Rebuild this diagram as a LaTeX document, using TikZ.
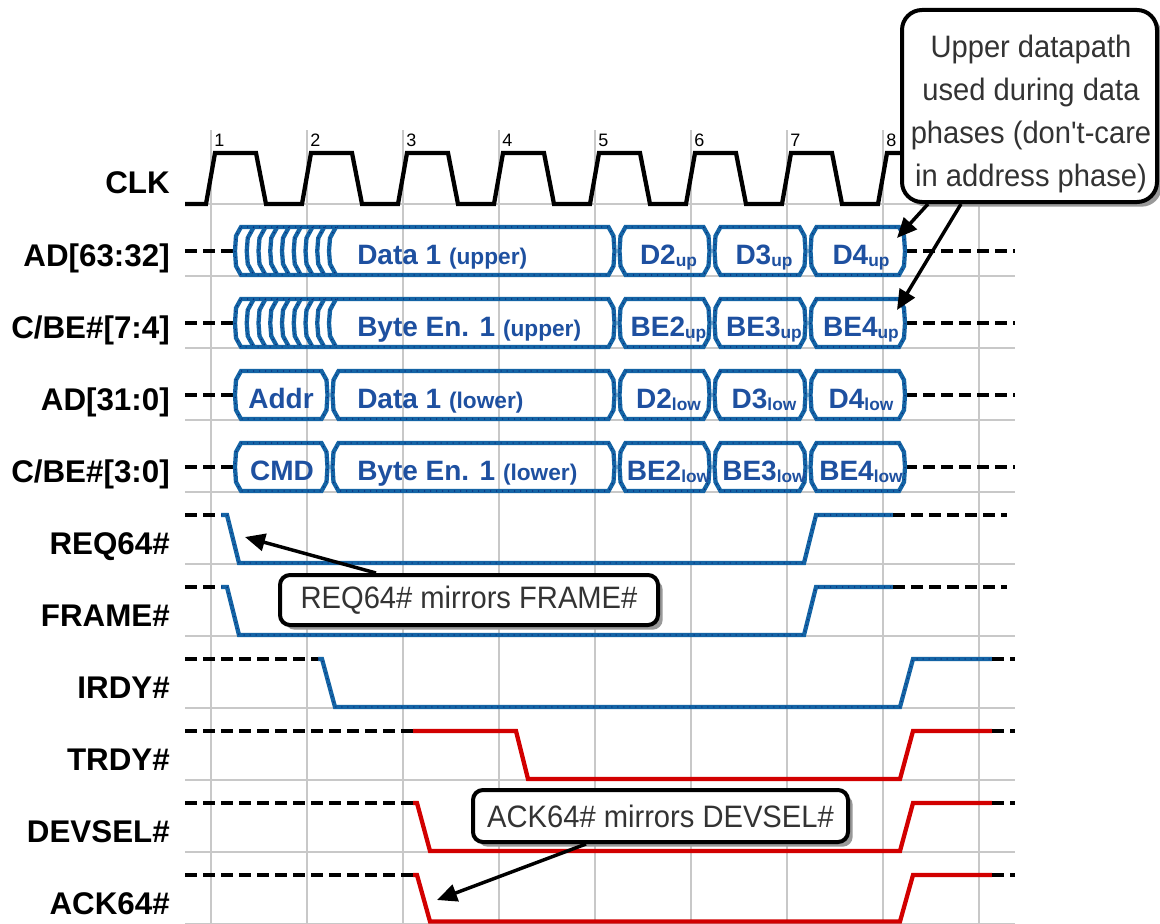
\documentclass[tikz,border=0pt]{standalone}
\usepackage{fontspec}
\setmainfont{Liberation Sans}
\newfontfamily\callfont[FakeStretch=0.94]{Liberation Sans}
\usetikzlibrary{arrows.meta,shadows,calc}
\definecolor{busblue}{RGB}{20,100,165}
\definecolor{dotnavy}{RGB}{10,40,120}
\definecolor{bustext}{RGB}{30,80,160}
\definecolor{sigred}{RGB}{210,0,0}
\definecolor{gridgray}{RGB}{200,200,200}
\newcommand\mysub[1]{\raisebox{-1.5pt}{\fontsize{13}{14}\selectfont #1}}
\newcommand\mysmall[1]{{\fontsize{17}{18}\selectfont #1}}
\newcommand\mybus[4]{\draw[bsig] ({#1+6},#3) -- ({#2-6},#3) -- ({#2-1},{#3+9}) -- (#2,{(#3+#4)/2}) -- ({#2-1},{#4-9}) -- ({#2-6},#4) -- ({#1+6},#4) -- ({#1+1},{#4-9}) -- (#1,{(#3+#4)/2}) -- ({#1+1},{#3+9}) -- cycle;}
\newcommand\mychev[3]{\draw[bsig] ({#1+7},#2) -- ({#1+1},{#2+11}) -- (#1,{(#2+#3)/2}) -- ({#1+1},{#3-11}) -- ({#1+7},#3);}
\tikzset{
 gridl/.style={draw=gridgray, line width=1.1pt},
 dsh/.style={draw=black, line width=3.2pt, dash pattern=on 9pt off 4.5pt},
 bsig/.style={draw=busblue, line width=3.2pt, line join=miter, postaction={draw=dotnavy, line width=0.9pt, dash pattern=on 0.8pt off 3.7pt}},
 rsig/.style={draw=sigred, line width=3.2pt},
 clk/.style={draw=black, line width=3.2pt},
 lab/.style={font=\bfseries\fontsize{23.5}{27}\selectfont, anchor=base east, inner sep=0pt},
 btxt/.style={text=bustext, font=\bfseries\fontsize{21}{24}\selectfont, inner sep=0pt, anchor=base},
 num/.style={font=\fontsize{13.5}{15}\selectfont, anchor=base west, inner sep=0pt},
 callbox/.style={draw=black, line width=3pt, fill=white, rounded corners=7.5pt, drop shadow={shadow xshift=3.5pt, shadow yshift=-3.5pt, fill=black!40, opacity=1}, inner sep=0pt, text=black!80, font=\callfont\fontsize{23.25}{32.25}\selectfont},
 calltext/.style={inner sep=0pt, text=black!80, align=center, font=\callfont\fontsize{23.25}{32.25}\selectfont},
 callarrow/.style={draw=black, line width=2.6pt, -{Triangle[length=15pt,width=13pt]}},
}
\begin{document}
\begin{tikzpicture}[x=0.75pt,y=-0.75pt]
\useasboundingbox (0,0) rectangle (1160,924);
\fill[white] (0,0) rectangle (1160,924);
% grid
\foreach \k in {0,...,8} \draw[gridl] (211+96*\k,130) -- (211+96*\k,924);
\foreach \k in {0,...,10} \draw[gridl] (185,204+72*\k) -- (1015,204+72*\k);
% clock
\draw[clk] (185,204) foreach \k in {0,...,6} { -- (206+96*\k,204) -- (215+96*\k,153) -- (256+96*\k,153) -- (266+96*\k,204) } -- (878,204) -- (887,153) -- (930,153);
\foreach \k in {1,...,8} \node[num] (n\k) at (211+96*\k-96+3,146) {\k};
% labels
\node[lab] (lclk) at (170,193) {CLK};
\node[lab] (l1) at (170,266) {AD[63:32]};
\node[lab] (l2) at (170,338) {C/BE\#[7:4]};
\node[lab] (l3) at (170,410) {AD[31:0]};
\node[lab] (l4) at (170,482) {C/BE\#[3:0]};
\node[lab] (l5) at (170,554) {REQ64\#};
\node[lab] (l6) at (170,626) {FRAME\#};
\node[lab] (l7) at (170,698) {IRDY\#};
\node[lab] (l8) at (170,770) {TRDY\#};
\node[lab] (l9) at (170,842) {DEVSEL\#};
\node[lab] (l10) at (170,914) {ACK64\#};
% bus rows: dashes
\foreach \m in {251,323,395,467} {
  \draw[dsh] (185,\m) -- (235,\m);
  \draw[dsh] (905,\m) -- (1015,\m);
}
% row 0 AD[63:32]
\mybus{235}{614.5}{227}{275}
\foreach \k in {1,...,8} {\mychev{235+11.75*\k}{227}{275}}
\mybus{619.5}{709.5}{227}{275}
\mybus{714.5}{805.5}{227}{275}
\mybus{810.5}{905}{227}{275}
\node[btxt, anchor=base west] (t0a) at (357,264) {Data 1 \mysmall{(upper)}};
\node[btxt] (t0b) at (668.5,264) {D2\mysub{up}};
\node[btxt] (t0c) at (764,264) {D3\mysub{up}};
\node[btxt] (t0d) at (861,264) {D4\mysub{up}};
% row 1 C/BE#[7:4]
\mybus{235}{614.5}{299}{347}
\foreach \k in {1,...,8} {\mychev{235+11.75*\k}{299}{347}}
\mybus{619.5}{709.5}{299}{347}
\mybus{714.5}{805.5}{299}{347}
\mybus{810.5}{905}{299}{347}
\node[btxt, anchor=base west] (t1a) at (357,336) {Byte En. 1 \mysmall{(upper)}};
\node[btxt] (t1b) at (668.5,336) {BE2\mysub{up}};
\node[btxt] (t1c) at (764,336) {BE3\mysub{up}};
\node[btxt] (t1d) at (861,336) {BE4\mysub{up}};
% row 2 AD[31:0]
\mybus{235}{327.5}{371}{419}
\mybus{332.5}{614.5}{371}{419}
\mybus{619.5}{709.5}{371}{419}
\mybus{714.5}{805.5}{371}{419}
\mybus{810.5}{905}{371}{419}
\node[btxt] (t2x) at (281,408) {Addr};
\node[btxt, anchor=base west] (t2a) at (357,408) {Data 1 \mysmall{(lower)}};
\node[btxt] (t2b) at (668.5,408) {D2\mysub{low}};
\node[btxt] (t2c) at (764,408) {D3\mysub{low}};
\node[btxt] (t2d) at (861,408) {D4\mysub{low}};
% row 3 C/BE#[3:0]
\mybus{235}{327.5}{443}{491}
\mybus{332.5}{614.5}{443}{491}
\mybus{619.5}{709.5}{443}{491}
\mybus{714.5}{805.5}{443}{491}
\mybus{810.5}{905}{443}{491}
\node[btxt] (t3x) at (282,480) {CMD};
\node[btxt, anchor=base west] (t3a) at (357,480) {Byte En. 1 \mysmall{(lower)}};
\node[btxt] (t3b) at (668.5,480) {BE2\mysub{low}};
\node[btxt] (t3c) at (764,480) {BE3\mysub{low}};
\node[btxt] (t3d) at (861,480) {BE4\mysub{low}};
% REQ64#
\draw[dsh] (185,515) -- (221,515);
\draw[bsig] (221,515) -- (227,515) -- (239,563) -- (804,563) -- (816,515) -- (893,515);
\draw[dsh] (893,515) -- (1007,515);
% FRAME#
\draw[dsh] (185,587) -- (221,587);
\draw[bsig] (221,587) -- (227,587) -- (239,635) -- (804,635) -- (816,587) -- (893,587);
\draw[dsh] (893,587) -- (1007,587);
% IRDY#
\draw[dsh] (185,659) -- (318,659);
\draw[bsig] (318,659) -- (322,659) -- (335,707) -- (900,707) -- (913,659) -- (992,659);
\draw[dsh] (992,659) -- (1015,659);
% TRDY#
\draw[dsh] (185,731) -- (413,731);
\draw[rsig] (413,731) -- (516,731) -- (528,779) -- (900,779) -- (913,731) -- (992,731);
\draw[dsh] (992,731) -- (1015,731);
% DEVSEL#
\draw[dsh] (185,803) -- (413,803);
\draw[rsig] (413,803) -- (417,803) -- (430,851) -- (900,851) -- (913,803) -- (992,803);
\draw[dsh] (992,803) -- (1015,803);
% ACK64#
\draw[dsh] (185,875) -- (413,875);
\draw[rsig] (413,875) -- (417,875) -- (430,921.5) -- (900,921.5) -- (913,875) -- (992,875);
\draw[dsh] (992,875) -- (1015,875);
% callouts
\node[callbox, rounded corners=15pt, minimum width=191.25pt, minimum height=144pt] (upbox) at (1029.5,106) {};
\node[calltext] (uptext) at (1031,113.5) {Upper datapath\\used during data\\phases (don't-care\\in address phase)};
\node[callbox, minimum width=283.5pt, minimum height=37.5pt] (reqbox) at (469,600) {REQ64\# mirrors FRAME\#};
\node[callbox, minimum width=281.25pt, minimum height=39pt] (ackbox) at (660.5,816) {ACK64\# mirrors DEVSEL\#};
% arrows
\coordinate (tipD4) at (897,238);
\coordinate (tipBE4) at (897,310);
\coordinate (tipREQ) at (245,537);
\coordinate (tipACK) at (437,900);
\draw[callarrow] ($(upbox.south west)+(28,0)$) -- (tipD4);
\draw[callarrow] ($(upbox.south west)+(61,0)$) -- (tipBE4);
\draw[callarrow] ($(reqbox.north west)+(98,0)$) -- (tipREQ);
\draw[callarrow] ($(ackbox.south west)+(115,0)$) -- (tipACK);
\end{tikzpicture}
\end{document}
